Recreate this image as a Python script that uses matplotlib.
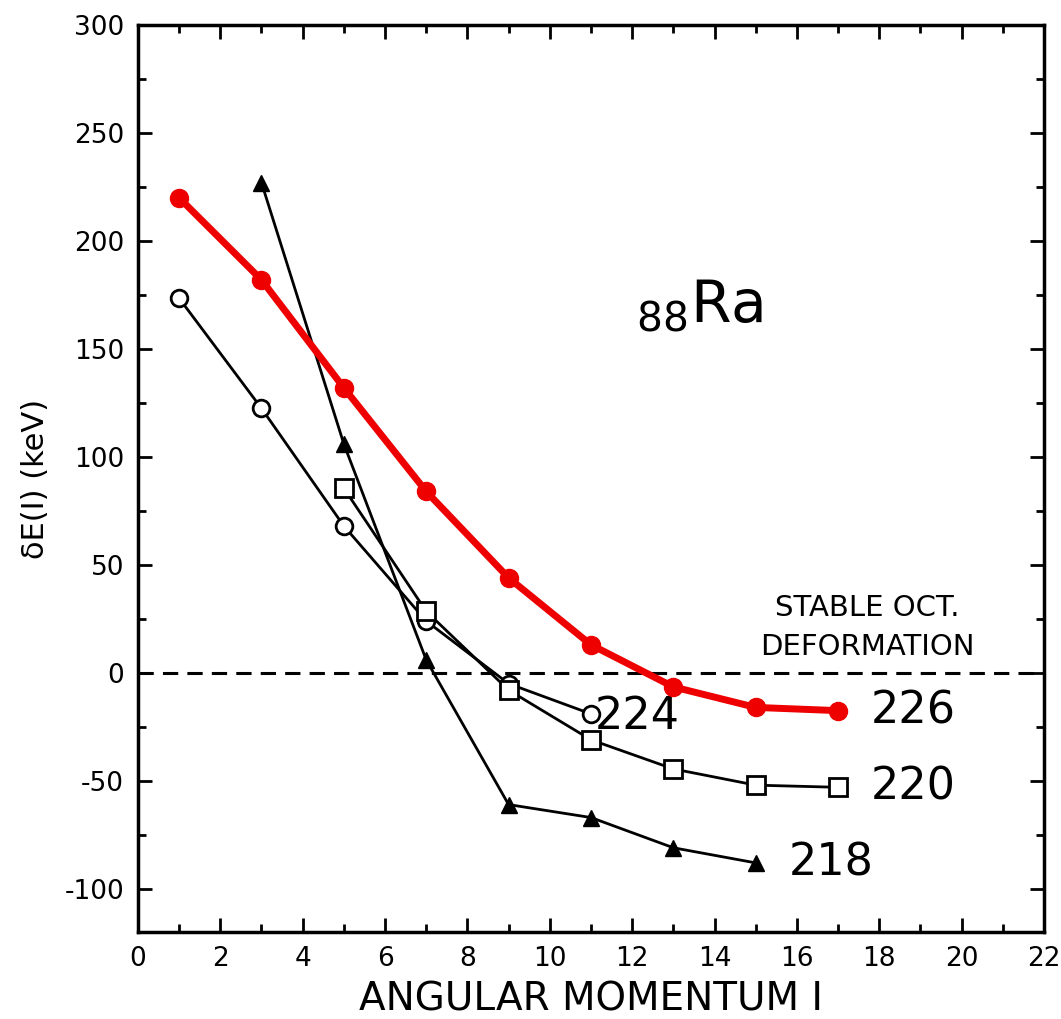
import matplotlib
matplotlib.use("Agg")
import matplotlib.pyplot as plt
from matplotlib.ticker import MultipleLocator

plt.rcParams['font.family'] = ['DejaVu Sans']
plt.rcParams['axes.unicode_minus'] = False

# data
spin_226 = [1, 3, 5, 7, 9, 11, 13, 15, 17]
dE_226 = [220, 182, 132, 84, 44, 13, -6.5, -16, -17.5]
spin_224 = [1, 3, 5, 7, 9, 11]
dE_224 = [173.5, 122.5, 68, 24, -5, -19]
spin_220 = [5, 7, 9, 11, 13, 15, 17]
dE_220 = [85.5, 28.5, -8, -31, -44.5, -52, -53]
spin_218 = [3, 5, 7, 9, 11, 13, 15]
dE_218 = [227, 106, 6, -61, -67, -81, -88]

x_ticks = list(range(0, 23, 2))
y_ticks = [-100, -50, 0, 50, 100, 150, 200, 250, 300]

fig = plt.figure(figsize=(10.61, 10.19), dpi=100)
ax = fig.add_axes([0.130, 0.0854, 0.854, 0.890])

ax.axhline(0, color='black', ls=(0, (5, 3)), lw=2.2, zorder=1)

ax.plot(spin_218, dE_218, color='black', lw=2, marker='^', ms=11, mfc='black', mec='black', zorder=3)
ax.plot(spin_224, dE_224, color='black', lw=2, marker='o', ms=12, mfc='white', mec='black', mew=2, zorder=3)
ax.plot(spin_220, dE_220, color='black', lw=2, marker='s', ms=13, mfc='white', mec='black', mew=2, zorder=3)
ax.plot(spin_226, dE_226, color='#ee0000', lw=5, marker='o', ms=13, mfc='#ee0000', mec='#ee0000', zorder=4)

ax.set_xlim(0, 22)
ax.set_ylim(-120, 300)
ax.set_xticks(x_ticks)
ax.set_yticks(y_ticks)
ax.xaxis.set_minor_locator(MultipleLocator(1))
ax.yaxis.set_minor_locator(MultipleLocator(25))
ax.tick_params(which='both', direction='in', top=True, right=True, width=2)
ax.tick_params(which='major', length=10, labelsize=19, pad=10)
ax.tick_params(which='minor', length=6)
for s in ax.spines.values():
    s.set_linewidth(2.5)

ax.set_xlabel('ANGULAR MOMENTUM I', fontsize=28, labelpad=6)
ax.set_ylabel('δE(I) (keV)', fontsize=22, labelpad=10)

ax.text(17.8, -17.5, '226', fontsize=32, va='center', ha='left')
ax.text(17.8, -53, '220', fontsize=32, va='center', ha='left')
ax.text(15.8, -88, '218', fontsize=32, va='center', ha='left')
ax.text(11.1, -20, '224', fontsize=32, va='center', ha='left')
ax.text(17.7, 21, 'STABLE OCT.\nDEFORMATION', fontsize=21, ha='center', va='center', linespacing=1.5)
ax.text(12.1, 170, '$_{88}$Ra', fontsize=42, ha='left', va='center')

fig.savefig('out.png', dpi=100)
